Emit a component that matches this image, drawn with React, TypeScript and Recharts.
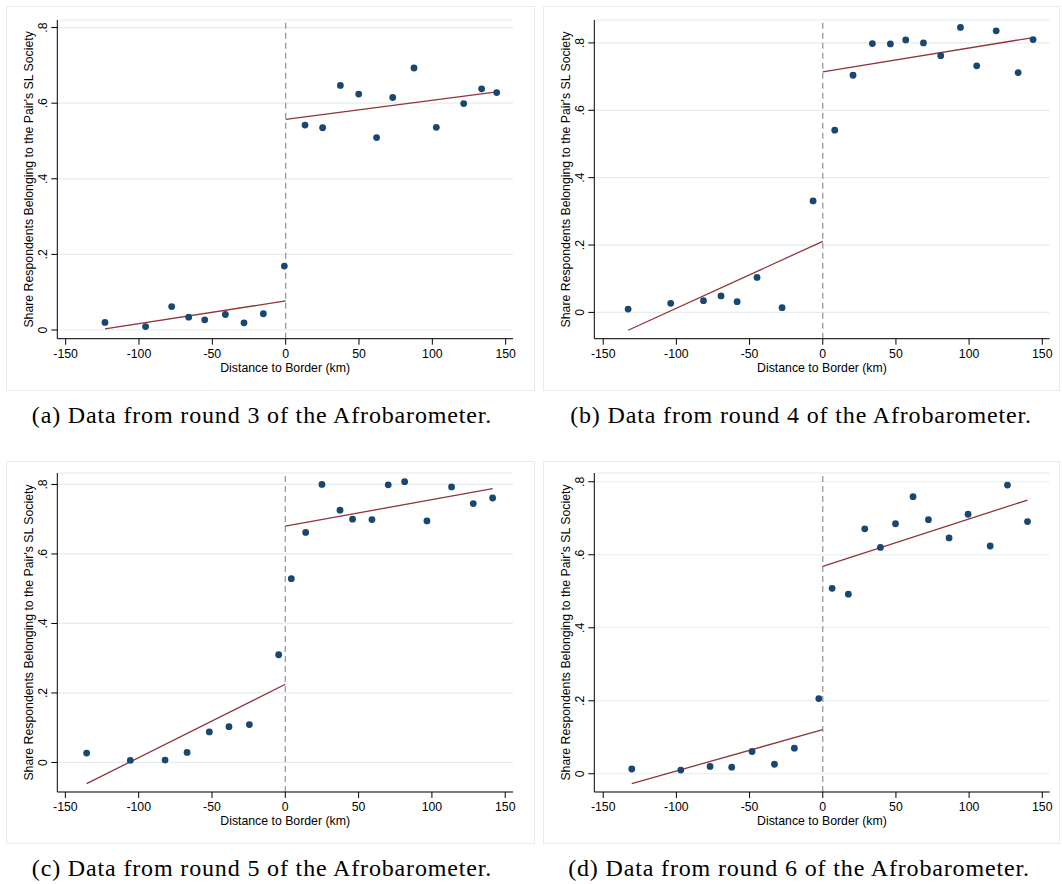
import React from "react";
import { ScatterChart, Scatter, XAxis, YAxis, CartesianGrid, ReferenceLine } from "recharts";

// ---------- data ----------
const X_TICKS = [-150, -100, -50, 0, 50, 100, 150];
const Y_TICKS = [0, 0.2, 0.4, 0.6, 0.8];

const DIST_R3 = [-123.2, -95.5, -77.7, -66.1, -55.2, -41.1, -28.4, -15.2, -0.9, 13.2, 25.2, 37.3, 49.8, 62.0, 73.0, 87.5, 102.7, 121.4, 133.6, 143.9];
const SHARE_R3 = [0.020, 0.009, 0.062, 0.034, 0.027, 0.041, 0.019, 0.043, 0.169, 0.542, 0.535, 0.647, 0.624, 0.509, 0.615, 0.693, 0.536, 0.599, 0.638, 0.628];
const FIT_L_X_R3 = [-123.2, 0];
const FIT_L_Y_R3 = [0.003, 0.077];
const FIT_R_X_R3 = [0, 143.9];
const FIT_R_Y_R3 = [0.557, 0.630];

const DIST_R4 = [-133.0, -103.9, -81.5, -69.5, -58.5, -44.9, -27.8, -6.6, 8.2, 20.7, 33.9, 46.2, 56.7, 68.8, 80.6, 94.1, 105.2, 118.5, 133.5, 143.7];
const SHARE_R4 = [0.010, 0.027, 0.035, 0.049, 0.032, 0.104, 0.014, 0.331, 0.541, 0.704, 0.798, 0.797, 0.809, 0.800, 0.762, 0.846, 0.732, 0.836, 0.712, 0.810];
const FIT_L_X_R4 = [-133.0, 0];
const FIT_L_Y_R4 = [-0.053, 0.211];
const FIT_R_X_R4 = [0, 143.7];
const FIT_R_Y_R4 = [0.714, 0.816];

const DIST_R5 = [-135.5, -105.7, -82.0, -67.0, -51.8, -38.4, -24.5, -4.5, 4.1, 13.9, 25.0, 37.3, 45.9, 59.1, 70.2, 81.4, 96.6, 113.4, 128.2, 141.4];
const SHARE_R5 = [0.027, 0.006, 0.007, 0.029, 0.088, 0.103, 0.109, 0.310, 0.529, 0.662, 0.800, 0.726, 0.700, 0.699, 0.799, 0.808, 0.695, 0.793, 0.745, 0.761];
const FIT_L_X_R5 = [-135.5, 0];
const FIT_L_Y_R5 = [-0.061, 0.225];
const FIT_R_X_R5 = [0, 141.4];
const FIT_R_Y_R5 = [0.680, 0.788];

const DIST_R6 = [-130.5, -97.0, -77.0, -62.2, -48.3, -33.0, -19.4, -2.7, 6.4, 17.5, 28.7, 39.4, 49.7, 61.7, 72.2, 86.3, 99.3, 114.4, 126.2, 139.9];
const SHARE_R6 = [0.013, 0.010, 0.020, 0.018, 0.061, 0.026, 0.070, 0.206, 0.508, 0.492, 0.671, 0.620, 0.685, 0.759, 0.696, 0.646, 0.711, 0.624, 0.791, 0.691];
const FIT_L_X_R6 = [-130.5, 0];
const FIT_L_Y_R6 = [-0.027, 0.121];
const FIT_R_X_R6 = [0, 139.9];
const FIT_R_Y_R6 = [0.568, 0.750];

const CAPTIONS = [
  "(a) Data from round 3 of the Afrobarometer.",
  "(b) Data from round 4 of the Afrobarometer.",
  "(c) Data from round 5 of the Afrobarometer.",
  "(d) Data from round 6 of the Afrobarometer.",
];
const X_LABEL = "Distance to Border (km)";
const Y_LABEL = "Share Respondents Belonging to the Pair's SL Society";

// ---------- helpers ----------
const zip = (xs: number[], ys: number[]) => xs.map((x, i) => ({ x, y: ys[i] }));
const fmtY = (v: number) => (v === 0 ? "0" : String(Math.round(v * 10) / 10).replace(/^0\./, "."));

const SANS = "'Liberation Sans', Arial, Helvetica, sans-serif";
const SERIF = "'Liberation Serif', 'Times New Roman', serif";
const NAVY = "#1a476f";
const MAROON = "#90353b";
const GRID = "#e4eced";
const FRAME = "#e4eced";

const Y_AXIS_W = 57.3;
const X_AXIS_H = 41.3;
const M_TOP = 20;
const M_RIGHT = 7;

const YTick = (p: any) => (
  <text
    x={p.x}
    y={p.y}
    transform={`rotate(-90 ${p.x} ${p.y})`}
    textAnchor="middle"
    fontSize={12.3}
    fontFamily={SANS}
    fill="#000"
  >
    {fmtY(p.payload.value)}
  </text>
);

const XTick = (p: any) => (
  <text x={p.x} y={p.y + 9} textAnchor="middle" fontSize={12.3} fontFamily={SANS} fill="#000">
    {p.payload.value}
  </text>
);

const XLabel = (p: any) => {
  const vb = p.viewBox || {};
  return (
    <text x={vb.x + vb.width / 2} y={vb.y + 33} textAnchor="middle" fontSize={12.3} fontFamily={SANS} fill="#000">
      {X_LABEL}
    </text>
  );
};

const YLabel = (p: any) => {
  const vb = p.viewBox || {};
  const cx = vb.x + 33;
  const cy = vb.y + vb.height / 2;
  return (
    <text x={cx} y={cy} transform={`rotate(-90 ${cx} ${cy})`} textAnchor="middle" fontSize={12.3} fontFamily={SANS} fill="#000">
      {Y_LABEL}
    </text>
  );
};

const Dot = (p: any) => <circle cx={p.cx} cy={p.cy} r={3.4} fill={NAVY} />;
const NoShape = () => <g />;

type PanelProps = {
  plot: [number, number, number, number]; // left, top, right, bottom
  frame: [number, number, number, number];
  xDomain: [number, number];
  yDomain: [number, number];
  dist: number[];
  share: number[];
  fitL: { x: number; y: number }[];
  fitR: { x: number; y: number }[];
  caption: string;
  captionCenter: number;
  captionY: number;
};

const Panel = (props: PanelProps) => {
  const [pl, pt, pr, pb] = props.plot;
  const left = pl - Y_AXIS_W;
  const top = pt - M_TOP;
  const width = pr - left + M_RIGHT;
  const height = pb - top + X_AXIS_H;
  const pts = zip(props.dist, props.share);
  const [fl, ft, fr, fb] = props.frame;
  return (
    <>
      <div
        style={{
          position: "absolute",
          left: fl,
          top: ft,
          width: fr - fl,
          height: fb - ft,
          border: `1.5px solid ${FRAME}`,
          boxSizing: "border-box",
          background: "#fff",
        }}
      />
      <div style={{ position: "absolute", left, top }}>
        <ScatterChart width={width} height={height} margin={{ top: M_TOP, right: M_RIGHT, bottom: 0, left: 0 }}>
          <CartesianGrid vertical={false} stroke={GRID} strokeWidth={1.2} />
          <XAxis
            type="number"
            dataKey="x"
            domain={props.xDomain}
            ticks={X_TICKS}
            allowDataOverflow
            height={X_AXIS_H}
            tickSize={6}
            tickMargin={4}
            stroke="#000"
            tickLine={{ stroke: "#000" }}
            tick={<XTick />}
            label={<XLabel />}
          />
          <YAxis
            type="number"
            dataKey="y"
            domain={props.yDomain}
            ticks={Y_TICKS}
            allowDataOverflow
            width={Y_AXIS_W}
            tickSize={6}
            tickMargin={4}
            stroke="#000"
            tickLine={{ stroke: "#000" }}
            tick={<YTick />}
            label={<YLabel />}
          />
          <ReferenceLine x={0} stroke="#9a9a9a" strokeWidth={1.3} strokeDasharray="6 4" />
          <Scatter data={props.fitL} line={{ stroke: MAROON, strokeWidth: 1.3 }} shape={<NoShape />} isAnimationActive={false} />
          <Scatter data={props.fitR} line={{ stroke: MAROON, strokeWidth: 1.3 }} shape={<NoShape />} isAnimationActive={false} />
          <Scatter data={pts} shape={<Dot />} isAnimationActive={false} />
        </ScatterChart>
      </div>
      <div
        style={{
          position: "absolute",
          left: props.captionCenter - 260,
          width: 520,
          top: props.captionY - 15,
          height: 30,
          lineHeight: "30px",
          textAlign: "center",
          fontFamily: SERIF,
          fontSize: 24,
          letterSpacing: "0.85px",
          color: "#000",
          whiteSpace: "nowrap",
        }}
      >
        {props.caption}
      </div>
    </>
  );
};

export default function App() {
  return (
    <div style={{ position: "absolute", left: 0, top: 0, width: 1062, height: 884, background: "#fff", overflow: "hidden" }}>
      <Panel
        plot={[57.3, 20, 513, 338.7]}
        frame={[6, 6, 535, 391]}
        xDomain={[-155.7, 155]}
        yDomain={[-0.023, 0.82]}
        dist={DIST_R3}
        share={SHARE_R3}
        fitL={zip(FIT_L_X_R3, FIT_L_Y_R3)}
        fitR={zip(FIT_R_X_R3, FIT_R_Y_R3)}
        caption={CAPTIONS[0]}
        captionCenter={262}
        captionY={415}
      />
      <Panel
        plot={[594.7, 20, 1050, 338.7]}
        frame={[543, 6, 1060, 391]}
        xDomain={[-156.1, 155]}
        yDomain={[-0.078, 0.868]}
        dist={DIST_R4}
        share={SHARE_R4}
        fitL={zip(FIT_L_X_R4, FIT_L_Y_R4)}
        fitR={zip(FIT_R_X_R4, FIT_R_Y_R4)}
        caption={CAPTIONS[1]}
        captionCenter={801}
        captionY={415}
      />
      <Panel
        plot={[57.3, 473.3, 513, 792.3]}
        frame={[6, 461, 535, 844]}
        xDomain={[-155.5, 155.3]}
        yDomain={[-0.085, 0.833]}
        dist={DIST_R5}
        share={SHARE_R5}
        fitL={zip(FIT_L_X_R5, FIT_L_Y_R5)}
        fitR={zip(FIT_R_X_R5, FIT_R_Y_R5)}
        caption={CAPTIONS[2]}
        captionCenter={262}
        captionY={868}
      />
      <Panel
        plot={[594.7, 473.3, 1050, 792.3]}
        frame={[543, 461, 1060, 844]}
        xDomain={[-156.1, 155]}
        yDomain={[-0.05, 0.824]}
        dist={DIST_R6}
        share={SHARE_R6}
        fitL={zip(FIT_L_X_R6, FIT_L_Y_R6)}
        fitR={zip(FIT_R_X_R6, FIT_R_Y_R6)}
        caption={CAPTIONS[3]}
        captionCenter={799}
        captionY={868}
      />
    </div>
  );
}
